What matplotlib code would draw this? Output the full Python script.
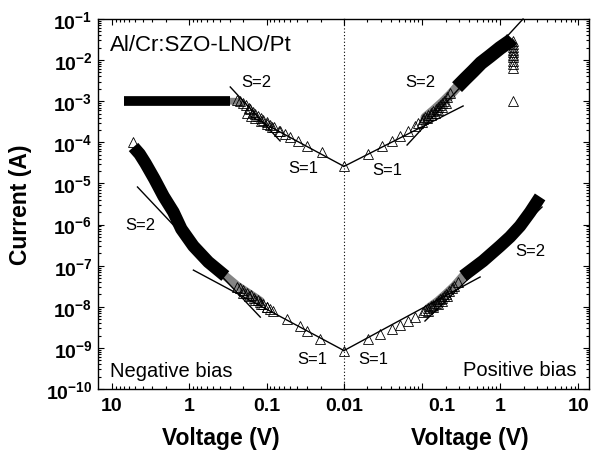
import matplotlib
matplotlib.use('Agg')
import matplotlib.pyplot as plt
import matplotlib.transforms as mtransforms
from matplotlib.ticker import FixedLocator, FixedFormatter, LogLocator, NullFormatter

plt.rcParams['font.family'] = ['Liberation Sans', 'DejaVu Sans']
plt.rcParams['mathtext.fontset'] = 'custom'
plt.rcParams['mathtext.rm'] = 'Liberation Sans'
plt.rcParams['mathtext.bf'] = 'Liberation Sans:bold'

# negative bias, low resistance (1 mA compliance)
neg_lrs_band_v = [7.1, 4.0, 2.0, 1.0, 0.5, 0.3]
neg_lrs_band_i = [1.0e-3, 1.0e-3, 1.0e-3, 1.0e-3, 1.0e-3, 1.0e-3]
neg_lrs_haze_v = [0.30, 0.26, 0.23, 0.21]
neg_lrs_haze_i = [1.0e-3, 1.0e-3, 9.8e-4, 9.0e-4]
neg_lrs_v = [0.24, 0.22, 0.20, 0.185, 0.17, 0.163, 0.15, 0.14, 0.13, 0.12, 0.11, 0.0986,
             0.09, 0.08, 0.067, 0.058, 0.0498, 0.0392, 0.030, 0.0192, 0.01,
             0.18, 0.16, 0.14, 0.12, 0.10, 0.085, 0.07]
neg_lrs_i = [1.05e-3, 1.0e-3, 9.0e-4, 8.0e-4, 7.0e-4, 6.4e-4, 5.6e-4, 4.9e-4, 4.3e-4, 3.8e-4, 3.4e-4, 3.1e-4,
             2.7e-4, 2.3e-4, 1.9e-4, 1.6e-4, 1.35e-4, 1.08e-4, 8.1e-5, 5.8e-5, 2.65e-5,
             5.2e-4, 4.4e-4, 3.9e-4, 3.3e-4, 2.8e-4, 2.3e-4, 1.85e-4]

# negative bias, high resistance
neg_hrs_band_v = [5.28, 4.4, 3.70, 2.83, 2.16, 1.61, 1.27, 0.887, 0.569, 0.343]
neg_hrs_band_i = [7.7e-5, 5.2e-5, 3.1e-5, 1.28e-5, 4.9e-6, 2.02e-6, 7.8e-7, 3.0e-7, 1.23e-7, 5.6e-8]
neg_hrs_haze_v = [0.343, 0.24, 0.18, 0.14, 0.12]
neg_hrs_haze_i = [5.6e-8, 3.2e-8, 2.25e-8, 1.65e-8, 1.35e-8]
neg_hrs_v = [5.3, 0.24, 0.22, 0.20, 0.18, 0.16, 0.145, 0.13, 0.121, 0.11, 0.10, 0.09, 0.0824,
             0.0543, 0.037, 0.030, 0.0204, 0.01,
             0.20, 0.17, 0.14, 0.12, 0.10]
neg_hrs_i = [1.02e-4, 3.1e-8, 2.8e-8, 2.5e-8, 2.2e-8, 1.9e-8, 1.65e-8, 1.45e-8, 1.31e-8, 1.15e-8, 1.0e-8, 9.0e-9, 7.9e-9,
             5.0e-9, 3.4e-9, 2.57e-9, 1.64e-9, 8.6e-10,
             2.2e-8, 1.8e-8, 1.45e-8, 1.2e-8, 9.8e-9]

# positive bias, low resistance
pos_lrs_band_v = [0.281, 0.356, 0.451, 0.570, 0.745, 1.0, 1.34, 1.43]
pos_lrs_band_i = [2.2e-3, 3.47e-3, 5.4e-3, 8.5e-3, 1.26e-2, 1.97e-2, 2.9e-2, 3.3e-2]
pos_lrs_haze_v = [0.11, 0.14, 0.186, 0.229, 0.281]
pos_lrs_haze_i = [4.0e-4, 5.9e-4, 9.6e-4, 1.42e-3, 2.2e-3]
pos_lrs_v = [0.01, 0.0203, 0.0307, 0.0412, 0.0522, 0.0662, 0.0813, 0.09, 0.103, 0.11, 0.12, 0.13,
             0.14, 0.15, 0.16, 0.17, 0.18, 0.19, 0.21, 0.23,
             0.10, 0.115, 0.13, 0.145, 0.16, 0.18, 0.20,
             1.47, 1.47, 1.47, 1.47, 1.47, 1.47, 1.47, 1.47, 1.47, 1.47, 1.47]
pos_lrs_i = [2.6e-5, 5.2e-5, 8.1e-5, 1.08e-4, 1.43e-4, 1.89e-4, 2.5e-4, 2.9e-4, 3.7e-4, 4.1e-4, 4.6e-4, 5.2e-4,
             5.9e-4, 6.6e-4, 7.4e-4, 8.3e-4, 9.3e-4, 1.03e-3, 1.3e-3, 1.6e-3,
             3.2e-4, 3.8e-4, 4.5e-4, 5.3e-4, 6.2e-4, 7.4e-4, 9.0e-4,
             2.9e-2, 2.5e-2, 2.1e-2, 1.8e-2, 1.58e-2, 1.35e-2, 1.19e-2, 9.5e-3, 8.0e-3, 6.4e-3, 1.0e-3]

# positive bias, high resistance
pos_hrs_band_v = [0.336, 0.605, 1.0, 1.34, 1.80, 2.43, 3.26]
pos_hrs_band_i = [5.6e-8, 1.3e-7, 3.0e-7, 5.0e-7, 9.2e-7, 2.0e-6, 4.7e-6]
pos_hrs_haze_v = [0.12, 0.16, 0.2, 0.26, 0.336]
pos_hrs_haze_i = [9.2e-9, 1.38e-8, 2.0e-8, 3.2e-8, 5.6e-8]
pos_hrs_v = [0.01, 0.0203, 0.029, 0.0412, 0.0522, 0.0662, 0.0813, 0.103, 0.11, 0.12, 0.13, 0.14,
             0.15, 0.16, 0.17, 0.18, 0.19, 0.20, 0.22, 0.24, 0.26, 0.29,
             0.12, 0.14, 0.16, 0.18, 0.21]
pos_hrs_i = [8.6e-10, 1.64e-9, 2.18e-9, 2.88e-9, 3.6e-9, 4.5e-9, 5.6e-9, 7.5e-9, 8.2e-9, 9.2e-9, 1.02e-8, 1.12e-8,
             1.25e-8, 1.38e-8, 1.52e-8, 1.68e-8, 1.85e-8, 2.0e-8, 2.4e-8, 2.8e-8, 3.2e-8, 4.0e-8,
             8.0e-9, 9.8e-9, 1.2e-8, 1.42e-8, 1.8e-8]

# slope fits (end points)
neg_fits = [([0.296, 0.067], [2.22e-3, 1.08e-4]),
            ([0.163, 0.01], [4.37e-4, 2.6e-5]),
            ([4.69, 0.121], [8.2e-6, 5.6e-9]),
            ([0.887, 0.01], [7.8e-8, 8.6e-10])]
pos_fits = [([0.01, 0.336], [2.6e-5, 7.66e-4]),
            ([0.0643, 1.97], [8.6e-5, 1.0e-1]),
            ([0.01, 0.555], [8.6e-10, 5.3e-8]),
            ([0.109, 3.45], [4.5e-9, 2.67e-6])]

neg_slopes = [('S=2', 0.136, 3.1e-3), ('S=1', 0.0338, 2.5e-5), ('S=2', 4.29, 1.03e-6), ('S=1', 0.0259, 5.4e-10)]
pos_slopes = [('S=2', 0.094, 3.1e-3), ('S=1', 0.0356, 2.24e-5), ('S=2', 2.43, 2.28e-7), ('S=1', 0.0236, 5.4e-10)]

y_ticks = [1e-10, 1e-9, 1e-8, 1e-7, 1e-6, 1e-5, 1e-4, 1e-3, 1e-2, 1e-1]
y_labels = [r'$\mathbf{10^{-%d}}$' % n for n in [10, 9, 8, 7, 6, 5, 4, 3, 2, 1]]


def draw_branch(ax, band_v, band_i, haze_v, haze_i, v, i, width):
    # dense overlapping sweeps: solid band, greyish where the markers thin out
    ax.plot(haze_v, haze_i, '-', color='0.4', alpha=0.8, lw=width * 0.7,
            solid_capstyle='round', solid_joinstyle='round')
    ax.plot(band_v, band_i, '-', color='k', lw=width, solid_capstyle='butt', solid_joinstyle='round')
    ax.plot(v, i, '^', ms=7, mfc='none', mec='k', mew=0.6)


def style_axis(ax, ticks, labels):
    ax.set_xscale('log')
    ax.set_yscale('log')
    ax.set_ylim(1e-10, 1e-1)
    ax.xaxis.set_major_locator(FixedLocator(ticks))
    ax.xaxis.set_major_formatter(FixedFormatter(labels))
    ax.xaxis.set_minor_locator(LogLocator(base=10, subs=range(2, 10), numticks=20))
    ax.xaxis.set_minor_formatter(NullFormatter())
    ax.yaxis.set_major_locator(FixedLocator(y_ticks))
    ax.yaxis.set_minor_locator(LogLocator(base=10, subs=range(2, 10), numticks=20))
    ax.yaxis.set_minor_formatter(NullFormatter())
    ax.tick_params(which='both', direction='in', top=True, width=0.8)
    ax.tick_params(which='major', length=4.5, labelsize=14, pad=6)
    ax.tick_params(which='minor', length=2.3)
    for lab in ax.get_xticklabels():
        lab.set_fontweight('bold')
    for s in ax.spines.values():
        s.set_linewidth(1.0)


fig = plt.figure(figsize=(5.92, 4.56), dpi=100)
ax1 = fig.add_axes([98 / 592, 66 / 456, 246 / 592, 370 / 456])
ax2 = fig.add_axes([344 / 592, 66 / 456, 245 / 592, 370 / 456], sharey=ax1)

draw_branch(ax1, neg_lrs_band_v, neg_lrs_band_i, neg_lrs_haze_v, neg_lrs_haze_i, neg_lrs_v, neg_lrs_i, 7)
draw_branch(ax1, neg_hrs_band_v, neg_hrs_band_i, neg_hrs_haze_v, neg_hrs_haze_i, neg_hrs_v, neg_hrs_i, 9)
draw_branch(ax2, pos_lrs_band_v, pos_lrs_band_i, pos_lrs_haze_v, pos_lrs_haze_i, pos_lrs_v, pos_lrs_i, 10)
draw_branch(ax2, pos_hrs_band_v, pos_hrs_band_i, pos_hrs_haze_v, pos_hrs_haze_i, pos_hrs_v, pos_hrs_i, 9)

for fv, fi in neg_fits:
    ax1.plot(fv, fi, '-', color='k', lw=1.0)
for fv, fi in pos_fits:
    ax2.plot(fv, fi, '-', color='k', lw=1.0, clip_on=False)

for txt, sv, si in neg_slopes:
    ax1.text(sv, si, txt, fontsize=12, ha='center', va='center')
for txt, sv, si in pos_slopes:
    ax2.text(sv, si, txt, fontsize=12, ha='center', va='center')

style_axis(ax1, [10, 1, 0.1, 0.01], ['10', '1', '0.1', '0.01'])
style_axis(ax2, [0.01, 0.1, 1, 10], ['', '0.1', '1', '10'])
ax1.set_xlim(15.2, 0.01)
ax2.set_xlim(0.01, 13.8)

ax1.yaxis.set_major_formatter(FixedFormatter(y_labels))
ax1.tick_params(axis='y', which='both', right=False, labelsize=14, pad=4)
ax2.tick_params(axis='y', which='both', left=False, right=True, labelleft=False)
ax1.spines['right'].set_visible(False)
ax2.spines['left'].set_visible(False)
ax2.axvline(0.01, color='k', ls=(0, (1, 2)), lw=0.8, clip_on=False)

ax1.set_ylabel('Current (A)', fontsize=16.5, fontweight='bold')
ax1.yaxis.set_label_coords(-0.27, 0.5)
ax1.set_xlabel('Voltage (V)', fontsize=16.5, fontweight='bold')
ax2.set_xlabel('Voltage (V)', fontsize=16.5, fontweight='bold')
ax1.xaxis.set_label_coords(0.5, -0.1)
ax2.xaxis.set_label_coords(0.515, -0.1)

ax1.text(0.049, 0.932, 'Al/Cr:SZO-LNO/Pt', transform=ax1.transAxes, fontsize=16, va='center')
ax1.text(0.049, 0.049, 'Negative bias', transform=ax1.transAxes, fontsize=14.5, va='center')
ax2.text(0.951, 0.054, 'Positive bias', transform=ax2.transAxes, fontsize=14.5, va='center', ha='right')

# the 0.1 label on the positive side sits a bit right of its tick
shift = mtransforms.ScaledTranslation(0.2, 0, fig.dpi_scale_trans)
lab = ax2.xaxis.get_major_ticks()[1].label1
lab.set_transform(lab.get_transform() + shift)

fig.savefig('out.png', dpi=100)
